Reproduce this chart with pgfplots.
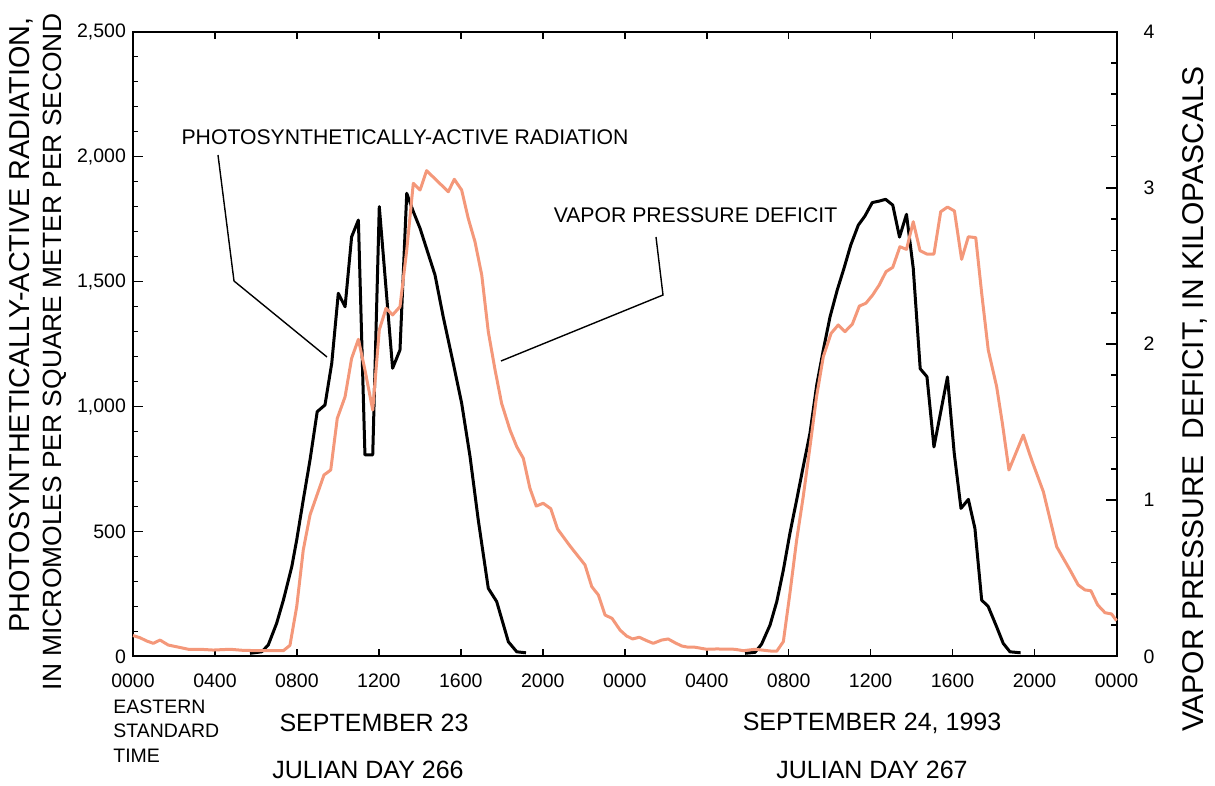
\documentclass[border=0pt]{standalone}
\usepackage{fontspec}
\setmainfont{Liberation Sans}
\usepackage{pgfplots}
\pgfplotsset{compat=1.18}
\definecolor{vpd}{RGB}{244,152,122}
\pgfplotsset{myax/.style={at={(0pt,0pt)}, anchor=south west, scale only axis,
  width=491.75pt, height=312.3pt, xmin=0, xmax=48, clip=false,
  axis line style={line width=1pt}, tick align=inside,
  every tick/.style={line width=0.8pt, black},
  tick label style={font=\fontsize{9.75}{11}\selectfont}}}
\begin{document}
\begin{tikzpicture}
\begin{scope}[x=0.5pt,y=-0.5pt,shift={(-66.5pt,328.15pt)}]
\path[use as bounding box] (0,0) rectangle (1215,783);
\end{scope}
% x ticks axis
\begin{axis}[myax, ymin=0, ymax=2500, ytick=\empty,
  xtick={0,4,...,48}, xtick pos=both, major tick length=3.6pt,
  xticklabels={0000,0400,0800,1200,1600,2000,0000,0400,0800,1200,1600,2000,0000},
  xticklabel style={yshift=-5.5pt}]
\end{axis}
% PAR axis
\begin{axis}[myax, ymin=0, ymax=2500, xtick=\empty,
  ytick={0,500,1000,1500,2000,2500},
  yticklabels={0,500,{1,000},{1,500},{2,000},{2,500}},
  minor y tick num=4, ytick pos=left,
  major tick length=5pt, minor tick length=2.5pt]
\addplot[black, line width=1.5pt, line join=round] coordinates {
(5.71,12) (6.28,18) (6.60,45) (7.01,132) (7.34,225) (7.75,359) (7.99,466)
(8.31,626) (8.64,786) (8.99,979) (9.37,1006) (9.70,1173) (10.02,1453)
(10.35,1399) (10.67,1679) (11.00,1746) (11.32,806) (11.70,806) (12.02,1800)
(12.67,1153) (13.03,1226) (13.36,1853) (13.68,1780) (14.01,1713) (14.74,1526)
(15.14,1359) (15.63,1173) (16.04,1013) (16.45,799) (16.85,546) (17.34,272)
(17.75,219) (18.32,58) (18.73,18) (19.18,14)};
\addplot[black, line width=1.5pt, line join=round] coordinates {
(29.87,12) (30.36,16) (30.68,49) (31.09,125) (31.42,219) (31.74,345)
(32.06,492) (32.39,626) (32.71,759) (33.04,893) (33.37,1086) (33.69,1226)
(34.02,1359) (34.37,1466) (34.70,1553) (35.03,1646) (35.40,1726) (35.72,1762)
(36.08,1816) (36.42,1822) (36.73,1829) (37.08,1806) (37.41,1678) (37.75,1769)
(38.08,1553) (38.42,1151) (38.75,1119) (39.09,838) (39.75,1118) (40.08,813)
(40.41,592) (40.77,628) (41.09,512) (41.42,225) (41.74,199) (42.15,118)
(42.47,52) (42.80,18) (43.32,14)};
\end{axis}
% VPD axis
\begin{axis}[myax, ymin=0, ymax=4, axis y line*=right, axis x line=none,
  ytick={0,1,2,3,4}, yticklabels={0,1,2,3,4}, minor y tick num=4,
  major tick length=5.5pt, minor tick length=2.8pt,
  yticklabel style={xshift=10pt}]
\addplot[vpd, line width=1.5pt, line join=round] coordinates {
(0,0.133) (0.34,0.119) (0.67,0.098) (0.99,0.083) (1.32,0.104) (1.72,0.072)
(2.13,0.061) (2.70,0.045) (3.27,0.045) (3.92,0.040) (4.73,0.045) (5.38,0.038)
(6.20,0.036) (7.34,0.036) (7.66,0.070) (7.99,0.318) (8.31,0.681) (8.64,0.905)
(9.32,1.161) (9.65,1.193) (9.97,1.524) (10.35,1.662) (10.67,1.908) (11.00,2.030)
(11.32,1.834) (11.70,1.577) (12.02,2.090) (12.35,2.229) (12.67,2.186) (13.03,2.239)
(13.36,2.602) (13.68,3.029) (14.01,2.986) (14.33,3.110) (15.39,2.975) (15.68,3.055)
(16.04,2.986) (16.36,2.805) (16.69,2.655) (17.02,2.442) (17.34,2.079) (17.67,1.834)
(17.99,1.620) (18.40,1.449) (18.73,1.342) (19.05,1.268) (19.37,1.077) (19.68,0.962)
(20.02,0.980) (20.39,0.945) (20.72,0.815) (21.33,0.706) (22.06,0.585) (22.39,0.446)
(22.71,0.393) (23.04,0.264) (23.38,0.243) (23.77,0.168) (24.09,0.130) (24.38,0.111)
(24.71,0.122) (25.07,0.100) (25.39,0.083) (25.80,0.104) (26.12,0.111) (26.45,0.087)
(26.78,0.066) (27.10,0.058) (27.43,0.058) (28.00,0.045) (28.49,0.047) (29.38,0.045)
(29.79,0.036) (30.36,0.045) (31.09,0.034) (31.42,0.033) (31.74,0.094) (32.06,0.403)
(32.39,0.745) (32.71,1.022) (33.04,1.342) (33.36,1.662) (33.69,1.919) (34.07,2.068)
(34.42,2.122) (34.75,2.079) (35.11,2.128) (35.45,2.243) (35.77,2.261) (36.10,2.314)
(36.42,2.378) (36.75,2.463) (37.08,2.491) (37.43,2.623) (37.75,2.606) (38.08,2.783)
(38.41,2.598) (38.74,2.576) (39.09,2.576) (39.42,2.847) (39.75,2.877) (40.09,2.852)
(40.44,2.542) (40.77,2.687) (41.13,2.681) (41.42,2.325) (41.74,1.962) (42.15,1.727)
(42.43,1.492) (42.75,1.193) (43.45,1.417) (43.86,1.257) (44.43,1.054) (45.08,0.702)
(45.40,0.628) (45.73,0.553) (46.13,0.457) (46.46,0.425) (46.75,0.420) (47.08,0.329)
(47.44,0.279) (47.76,0.271) (48.00,0.228)};
\end{axis}
\begin{scope}[x=0.5pt,y=-0.5pt,shift={(-66.5pt,328.15pt)}]
\node[rotate=90, font=\fontsize{14.4}{16}\selectfont] at (21,325) {PHOTOSYNTHETICALLY-ACTIVE RADIATION,};
\node[rotate=90, font=\fontsize{13.2}{15}\selectfont] at (54.5,352) {IN MICROMOLES PER SQUARE METER PER SECOND};
\node[rotate=90, font=\fontsize{15}{17}\selectfont] at (1195,399) {VAPOR PRESSURE\ \ DEFICIT, IN KILOPASCALS};
\node[font=\fontsize{10.6}{12}\selectfont] at (405,137) {PHOTOSYNTHETICALLY-ACTIVE RADIATION};
\node[font=\fontsize{10.6}{12}\selectfont] at (695.5,215) {VAPOR PRESSURE DEFICIT};
\draw[line width=0.7pt] (218,155) -- (234,281) -- (327,357);
\draw[line width=0.7pt] (656,237) -- (663,295) -- (501,361);
\node[anchor=west, inner sep=0pt, font=\fontsize{9.75}{11}\selectfont] at (113,707) {EASTERN};
\node[anchor=west, inner sep=0pt, font=\fontsize{9.75}{11}\selectfont] at (113,731) {STANDARD};
\node[anchor=west, inner sep=0pt, font=\fontsize{9.75}{11}\selectfont] at (113,756) {TIME};
\node[font=\fontsize{12.5}{14}\selectfont] at (374,723) {SEPTEMBER 23};
\node[font=\fontsize{12.5}{14}\selectfont] at (368,770) {JULIAN DAY 266};
\node[font=\fontsize{12.5}{14}\selectfont] at (872,723) {SEPTEMBER 24, 1993};
\node[font=\fontsize{12.5}{14}\selectfont] at (872,770) {JULIAN DAY 267};
\end{scope}
\end{tikzpicture}
\end{document}
